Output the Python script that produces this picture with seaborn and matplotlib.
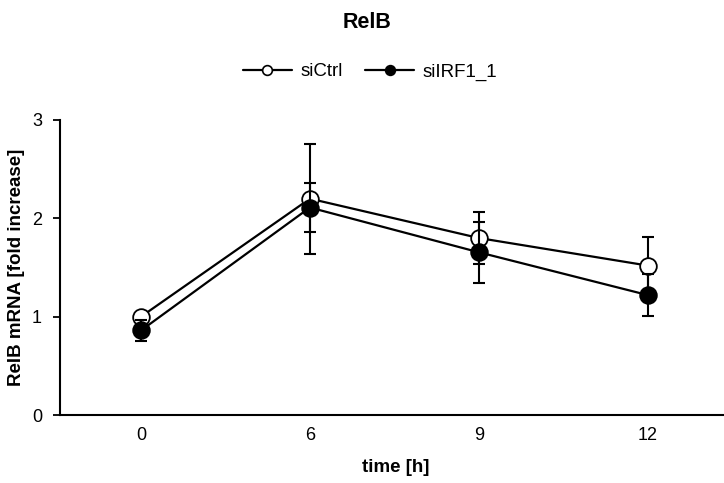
import matplotlib
matplotlib.use("Agg")
import matplotlib.pyplot as plt
from matplotlib.lines import Line2D
import seaborn as sns
import pandas as pd

# ---- data ----
time_labels = ["0", "6", "9", "12"]
series_names = ["siCtrl", "siIRF1_1"]
sictrl_mean = [1.00, 2.20, 1.80, 1.52]
sictrl_err = [0.02, 0.56, 0.265, 0.29]
siirf_mean = [0.86, 2.11, 1.655, 1.22]
siirf_err = [0.11, 0.25, 0.31, 0.21]
y_ticks = [0, 1, 2, 3]

sns.set_theme(style="white")
plt.rcParams["font.family"] = ["Liberation Sans", "DejaVu Sans"]
plt.rcParams["text.color"] = "black"
plt.rcParams["axes.labelcolor"] = "black"
plt.rcParams["xtick.color"] = "black"
plt.rcParams["ytick.color"] = "black"

pos = list(range(len(time_labels)))
df = pd.DataFrame({
    "pos": pos * 2,
    "value": sictrl_mean + siirf_mean,
    "err": sictrl_err + siirf_err,
    "series": [series_names[0]] * len(pos) + [series_names[1]] * len(pos),
})

W, H = 724, 483
fig = plt.figure(figsize=(W / 100, H / 100), dpi=100)
ax_left, ax_right, ax_top, ax_bottom = 60, 732, 120, 415
ax = fig.add_axes([ax_left / W, 1 - ax_bottom / H, (ax_right - ax_left) / W,
                   (ax_bottom - ax_top) / H])

face = {series_names[0]: "white", series_names[1]: "black"}
for i, name in enumerate(series_names):
    sub = df[df["series"] == name]
    ax.errorbar(sub["pos"], sub["value"], yerr=sub["err"], fmt="none",
                ecolor="black", elinewidth=1.5, capsize=4, capthick=1.5,
                zorder=2 + 2 * i)
    sns.lineplot(data=sub, x="pos", y="value", ax=ax, color="black",
                 linewidth=1.6, marker="o", markersize=12,
                 markerfacecolor=face[name], markeredgecolor="black",
                 markeredgewidth=1.3, zorder=3 + 2 * i, legend=False,
                 errorbar=None)

ax.set_xlim(-0.48, 3.5)
ax.set_ylim(0, 3)
ax.set_xticks(pos)
ax.set_xticklabels(time_labels, fontsize=13)
ax.set_yticks(y_ticks)
ax.set_yticklabels([str(t) for t in y_ticks], fontsize=13)
ax.tick_params(axis="y", direction="out", length=5, width=1.3, pad=8, left=True, colors="black")
ax.tick_params(axis="x", length=0, pad=9, colors="black")
for s in ["top", "right"]:
    ax.spines[s].set_visible(False)
for s in ["left", "bottom"]:
    ax.spines[s].set_color("black")
    ax.spines[s].set_linewidth(1.5)

ax.set_xlabel("time [h]", fontsize=13.5, fontweight="bold", color="black")
ax.set_ylabel("RelB mRNA [fold increase]", fontsize=13.5, fontweight="bold", color="black")
ax_w = ax_right - ax_left
ax_h = ax_bottom - ax_top
ax.xaxis.set_label_coords((396 - ax_left) / ax_w, -(468 - ax_bottom) / ax_h)
ax.xaxis.label.set_va("center")
ax.yaxis.set_label_coords(-(ax_left - 17) / ax_w, 0.5)
ax.yaxis.label.set_va("center")

fig.text(367 / W, 1 - 23 / H, "RelB", ha="center", va="center",
         fontsize=15.5, fontweight="bold", color="black")

handles = [Line2D([0], [0], color="black", linewidth=1.6, marker="o", markersize=7,
                  markerfacecolor=face[n], markeredgecolor="black", markeredgewidth=1.2)
           for n in series_names]
fig.legend(handles, series_names, loc="center", bbox_to_anchor=(370 / W, 1 - 72 / H),
           ncol=2, frameon=False, fontsize=13.5, handlelength=2.6, handletextpad=0.45,
           columnspacing=1.2, borderpad=0, labelcolor="black")

fig.savefig("out.png", dpi=100)
